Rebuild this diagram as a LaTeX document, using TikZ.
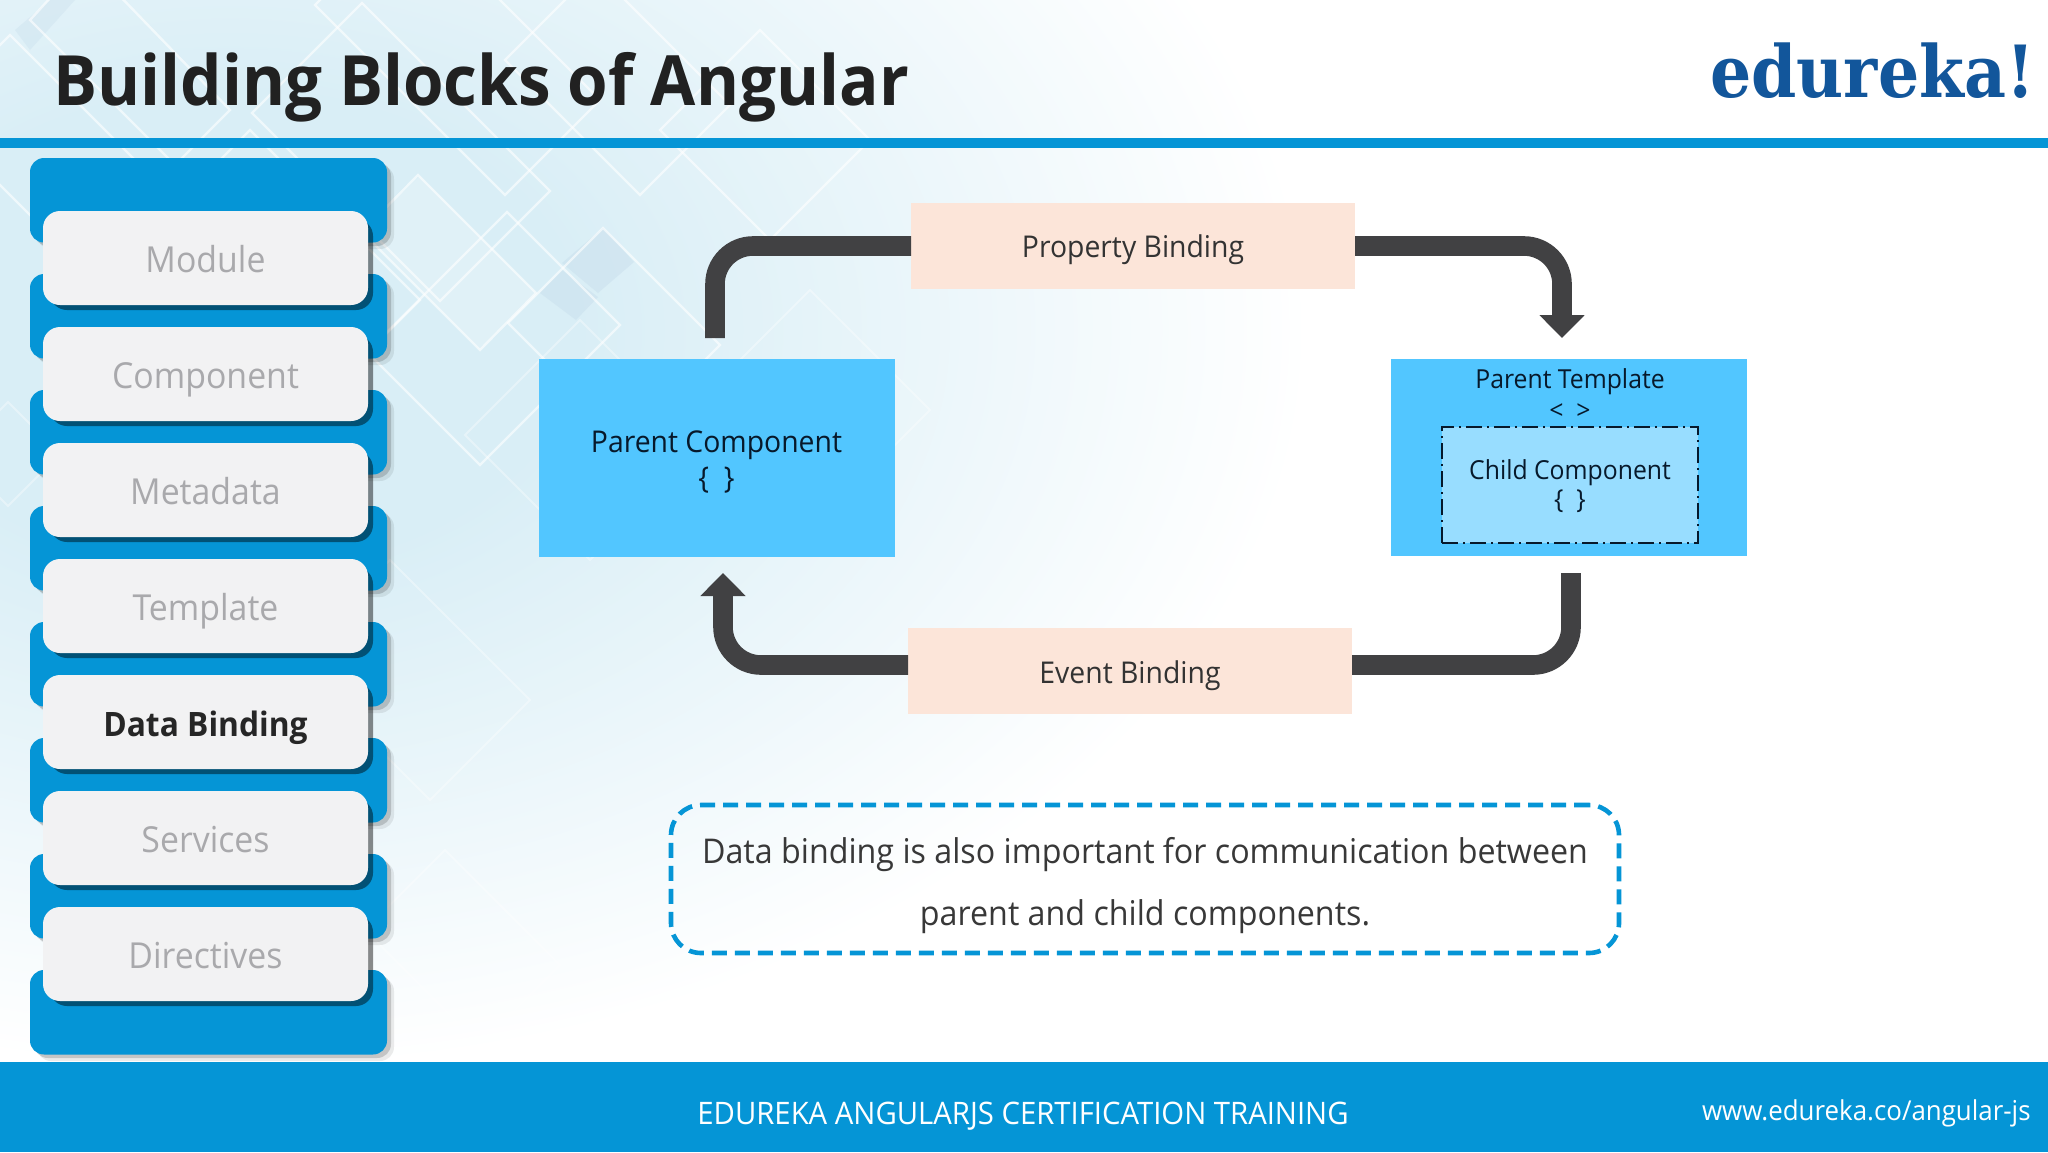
\documentclass[tikz,border=0pt]{standalone}
\usepackage{fontspec}
\setmainfont{Open Sans}[FakeStretch=0.945]
\newfontfamily\logofont{DejaVu Serif}[FakeStretch=0.9]
\usetikzlibrary{arrows.meta}
\definecolor{brandblue}{HTML}{0595D6}
\definecolor{boxblue}{HTML}{52C6FF}
\definecolor{childblue}{HTML}{98DDFF}
\definecolor{peach}{HTML}{FCE5D9}
\definecolor{connc}{HTML}{414143}
\definecolor{cardc}{HTML}{F2F2F3}
\definecolor{greyt}{HTML}{A9A9AC}
\definecolor{inkc}{HTML}{07192B}
\definecolor{bgc}{HTML}{D9EEF6}
\definecolor{logoc}{HTML}{12569B}
\definecolor{palec}{HTML}{C4DAEA}
\pgfdeclareradialshading{bgshade}{\pgfpoint{0bp}{0bp}}{color(0bp)=(bgc); color(8bp)=(bgc); color(17bp)=(bgc!48!white); color(25bp)=(white); color(100bp)=(white)}
\tikzset{
  x=.5pt,y=-.5pt,
  tabbox/.style={fill=brandblue,rounded corners=7pt},
  cardbox/.style={fill=cardc,rounded corners=8.5pt},
  cardlabel/.style={anchor=base,inner sep=0,font=\fontsize{17.9}{20}\selectfont,text=greyt},
  solidbox/.style={inner sep=0,outer sep=0,fill=boxblue},
  bindbox/.style={inner sep=0,outer sep=0,fill=peach,minimum width=222pt,minimum height=43pt},
  ink/.style={anchor=base,inner sep=0,font=\fontsize{15}{18}\selectfont,text=inkc},
  smallink/.style={ink,font=\fontsize{13.1}{16}\selectfont},
  conn/.style={draw=connc,line width=9.8pt,rounded corners=19pt},
  connhead/.style={-{Triangle[width=22pt,length=11.5pt]}},
  diam/.style={draw=white,line width=1.2pt,opacity=.6},
  faintdiam/.style={draw=white,line width=1pt,opacity=.35}
}
\begin{document}
\begin{tikzpicture}
\useasboundingbox (0,0) rectangle (2048,1152);
\fill[white] (0,0) rectangle (2048,1152);
\begin{scope}
\clip (0,0) rectangle (2048,1152);
\shade[shading=bgshade] (230,330) ellipse (1080 and 740);
% pale diamonds
\fill[palec,opacity=.4] (603,228) -- (634,262) -- (598,293) -- (562,263) -- cycle;
\fill[palec,opacity=.4] (540,293) -- (562,270) -- (598,297) -- (576,320) -- cycle;
\fill[palec,opacity=.3] (15,30) -- (50,0) -- (75,0) -- (30,50) -- cycle;
\fill[white,opacity=.2] (420,176) -- (536,293) -- (480,350) -- (362,232) -- cycle;
% white lattice
\foreach \p in {
 {(418,175) -- (536,293) -- (480,350) -- (362,232) -- cycle},
 {(507,212) -- (620,325) -- (480,465) -- (367,352) -- cycle},
 {(603,228) -- (720,345) -- (625,440) -- (508,323) -- cycle},
 {(362,3) -- (550,191) -- (440,301) -- (252,113) -- cycle},
 {(410,-90) -- (600,100) -- (505,195) -- (315,5) -- cycle},
 {(10,35) -- (140,165) -- (60,245) -- (-70,115) -- cycle},
 {(85,-40) -- (30,20) -- (175,165) -- (230,110) -- cycle},
 {(250,130) -- (420,300) -- (290,430) -- (120,260) -- cycle},
 {(595,-30) -- (730,105) -- (640,195) -- (505,60) -- cycle},
 {(760,30) -- (870,140) -- (770,240) -- (660,130) -- cycle}
} {\draw[diam] \p;}
\foreach \p in {
 {(465,435) -- (580,320) -- (705,445) -- (590,560) -- cycle},
 {(8,402) -- (60,454) -- (8,506) -- (-44,454) -- cycle},
 {(390,560) -- (530,700) -- (430,800) -- (290,660) -- cycle},
 {(445,850) -- (560,965) -- (480,1045) -- (365,930) -- cycle},
 {(810,290) -- (930,410) -- (830,510) -- (710,390) -- cycle}
} {\draw[faintdiam] \p;}
\end{scope}
% header and footer
\fill[brandblue] (0,138) rectangle (2048,148);
\fill[brandblue] (0,1062) rectangle (2048,1152);
\node[anchor=base west,inner sep=0,font=\fontsize{34.7}{40}\bfseries\selectfont,text=black!87] (title) at (53,105) {Building Blocks of Angular};
\node[anchor=base east,inner sep=0,font=\logofont\fontsize{36}{40}\bfseries\selectfont,text=logoc] (logo) at (2035,97) {edureka!};
% side tabs
\foreach \i in {0,...,7}{
  \pgfmathsetmacro{\t}{158+116*\i}
  \fill[black,opacity=.08,rounded corners=7pt] (37,\t+7) rectangle (394,\t+91);
  \fill[black,opacity=.16,rounded corners=7pt] (34,\t+4) rectangle (391,\t+88);
  \fill[tabbox] (30,\t) rectangle (387,\t+84.5);
}
\foreach \i/\lab in {0/Module,1/Component,2/Metadata,3/Template,5/Services,6/Directives}{
  \pgfmathsetmacro{\t}{211+116*\i}
  \fill[black,opacity=.45,rounded corners=8.5pt] (50,\t+8) rectangle (373,\t+99);
  \fill[cardbox] (43,\t) rectangle (368,\t+94);
  \node[cardlabel] (card\i) at (205.5,\t+61) {\lab};
}
\fill[black,opacity=.45,rounded corners=8.5pt] (50,683) rectangle (373,774);
\fill[cardbox] (43,675) rectangle (368,769);
\node[cardlabel,text=black!85,font=\fontsize{16.8}{20}\bfseries\selectfont] (card4) at (205.5,736) {Data Binding};
% diagram boxes
\node[solidbox,minimum width=178pt,minimum height=99pt] (pc) at (716.5,458) {};
\node[solidbox,minimum width=178pt,minimum height=98.5pt] (pt) at (1569,457.5) {};
\node[inner sep=0,outer sep=0,fill=childblue,draw=inkc,line width=1.3pt,dash pattern=on 8pt off 2.5pt on 1pt off 2.5pt,minimum width=128pt,minimum height=58pt] (cc) at (1570,485) {};
\node[bindbox] (prop) at (1133,246) {};
\node[bindbox] (event) at (1130,671) {};
\node[ink] (pcT) at (716.5,452) {Parent Component};
\node[ink] (pcB) at (716.5,488) {\{ \ \}};
\node[smallink] (ptT) at (1570,388) {Parent Template};
\node[smallink] (ptB) at (1570,419) {< \ >};
\node[smallink] (ccT) at (1570,479) {Child Component};
\node[smallink] (ccB) at (1570,508) {\{ \ \}};
\node[ink,text=black!80] (propT) at (1133,257) {Property Binding};
\node[ink,text=black!80] (eventT) at (1130,683) {Event Binding};
% connectors
\coordinate (pcIn) at (715,338);
\coordinate (ptIn) at (1562,338);
\coordinate (ptOut) at (1571,573);
\coordinate (pcRet) at (723,573);
\draw[conn] (prop.west) -- (pcIn |- prop.west) -- (pcIn);
\draw[conn,connhead] (prop.east) -- (ptIn |- prop.east) -- (ptIn);
\coordinate (evR) at ([yshift=3pt]event.east);
\coordinate (evL) at ([yshift=3pt]event.west);
\draw[conn] (ptOut) -- (ptOut |- evR) -- (evR);
\draw[conn,connhead] (evL) -- (pcRet |- evL) -- (pcRet);
% note
\node[inner sep=0,outer sep=0,draw=brandblue,line width=2.3pt,dash pattern=on 7.5pt off 4pt,rounded corners=15pt,minimum width=474pt,minimum height=74pt] (note) at (1145,879) {};
\node[anchor=base,inner sep=0,font=\fontsize{17.05}{20}\selectfont,text=black!78] (n1) at (1145,863) {Data binding is also important for communication between};
\node[anchor=base,inner sep=0,font=\fontsize{17.05}{20}\selectfont,text=black!78] (n2) at (1145,925) {parent and child components.};
% footer text
\node[anchor=base,inner sep=0,font=\fontsize{15.5}{18}\selectfont,text=white] (ft) at (1023,1124) {EDUREKA ANGULARJS CERTIFICATION TRAINING};
\node[anchor=base east,inner sep=0,font=\fontsize{13.7}{18}\selectfont,text=white] (url) at (2031,1120) {www.edureka.co/angular-js};
\end{tikzpicture}
\end{document}
